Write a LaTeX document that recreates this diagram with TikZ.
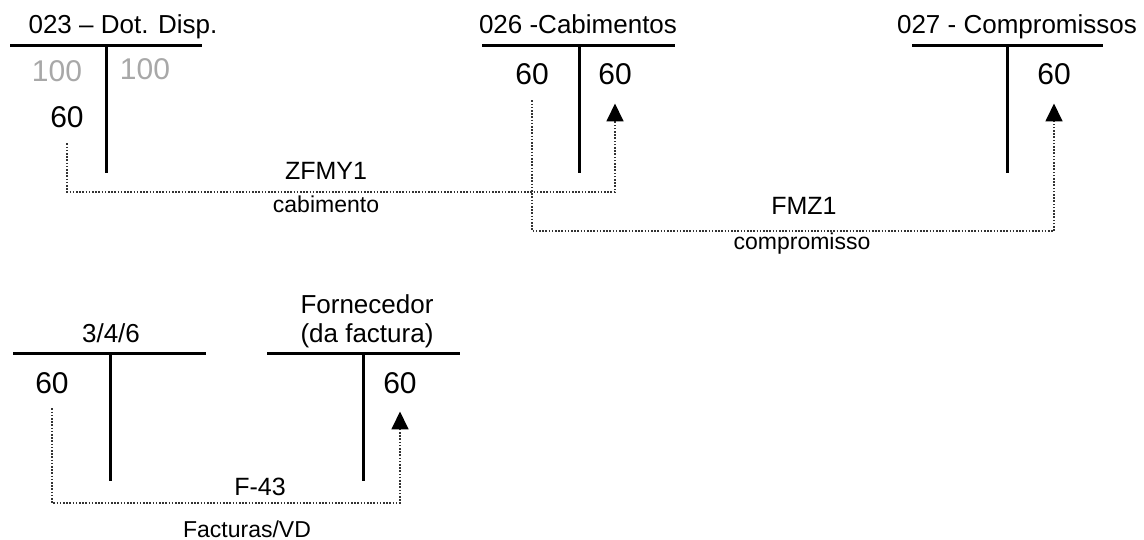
\documentclass[tikz,border=0pt]{standalone}
\usepackage{fontspec}
\setmainfont{Liberation Sans}
\usetikzlibrary{arrows.meta,positioning}
\definecolor{TGray}{HTML}{A8A8A8}
\definecolor{TFlow}{HTML}{333333}

\begin{document}
\begin{tikzpicture}[
  x=1pt,y=-1pt,
  tline/.style={line width=3pt},
  title/.style={font=\fontsize{26}{29}\selectfont,anchor=base,inner sep=0pt,align=center},
  amount/.style={font=\fontsize{30}{34}\selectfont,anchor=base,inner sep=2pt},
  faded/.style={amount,text=TGray},
  doc/.style={font=\fontsize{25}{28}\selectfont,anchor=base,inner sep=0pt},
  kind/.style={font=\fontsize{23}{26}\selectfont,anchor=base,inner sep=0pt},
  flow/.style={TFlow,line width=1.8pt,dash pattern=on 1.6pt off 1.6pt,shorten <=13pt,shorten >=16pt,
    -{Triangle[length=18pt,width=17pt,color=black]}},
]
\useasboundingbox (0,0) rectangle (1144,540);
% rows of the dotted connectors
\coordinate (zfmy) at (0,192);
\coordinate (fmz) at (0,231);
\coordinate (f43) at (0,503);

% account 023
\node[title] (t023) at (123,34) {023 – Dot. Disp.};
\draw[tline] (10,46) -- (202,46);
\draw[tline] (106,46) -- (106,173);
\node[faded] (d100l) at (57,82) {100};
\node[faded] (d100r) at (145,80) {100};
\node[amount] (d60) at (67,128) {60};

% account 026
\node[title] (t026) at (578,34) {026 -Cabimentos};
\draw[tline] (482,46) -- (675,46);
\draw[tline] (579,46) -- (579,173);
\node[amount] (c60l) at (532,85) {60};
\node[amount] (c60r) at (615,85) {60};

% account 027
\node[title] (t027) at (1017,34) {027 - Compromissos};
\draw[tline] (912,46) -- (1103,46);
\draw[tline] (1007,46) -- (1007,173);
\node[amount] (p60) at (1054,85) {60};

% account 3/4/6
\node[title] (t346) at (111,342) {3/4/6};
\draw[tline] (13,353) -- (206,353);
\draw[tline] (110,353) -- (110,481);
\node[amount] (g60) at (52,393) {60};

% supplier account
\node[title,anchor=south] (tforn) at (367,348) {Fornecedor\\(da factura)};
\draw[tline] (267,353) -- (460,353);
\draw[tline] (363,353) -- (363,481);
\node[amount] (s60) at (400,393) {60};

% postings
\draw[flow] (d60.south) -- (d60.south |- zfmy) -- (c60r.south |- zfmy) -- (c60r.south);
\draw[flow] (c60l.south) -- (c60l.south |- fmz) -- (p60.south |- fmz) -- (p60.south);
\draw[flow] (g60.south) -- (g60.south |- f43) -- (s60.south |- f43) -- (s60.south);

\node[doc] (lzfmy) at (326,180) {ZFMY1};
\node[kind] (kzfmy) at (326,213) {cabimento};
\node[doc] (lfmz) at (804,215) {FMZ1};
\node[kind] (kfmz) at (802,250) {compromisso};
\node[doc] (lf43) at (260,495) {F-43};
\node[kind] (kf43) at (247,537) {Facturas/VD};
\end{tikzpicture}
\end{document}
